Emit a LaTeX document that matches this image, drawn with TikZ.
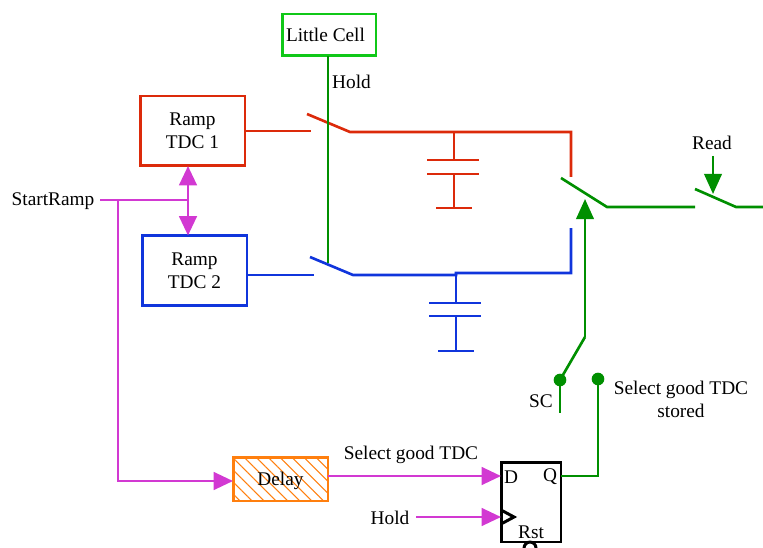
\documentclass[tikz,border=0pt]{standalone}
\usepackage{fontspec}
\setmainfont{Liberation Serif}
\usepackage{tikz}
\usetikzlibrary{arrows.meta, patterns.meta}
\definecolor{mRed}{HTML}{DC2A0A}
\definecolor{mBlue}{HTML}{1035DC}
\definecolor{mGreen}{HTML}{008F00}
\definecolor{mLime}{HTML}{10C818}
\definecolor{mPink}{HTML}{D239D2}
\definecolor{mOrange}{HTML}{FF7F0E}

\begin{document}
\begin{tikzpicture}[x=0.02cm, y=-0.02cm,
      every node/.style={font=\fontsize{11}{13}\selectfont, align=center, inner sep=0pt, outer sep=0pt},
      wire/.style={line width=1.5pt, line join=miter},
      box/.style={draw, line width=1.7pt, fill=white, minimum width=21mm, minimum height=14mm},
      pinkhead/.style={-{Triangle[length=11pt, width=10pt]}},
      greenhead/.style={-{Triangle[length=11.5pt, width=10pt]}}]
    \useasboundingbox (0,0) rectangle (763,547);

    % blocks
    \node[box, draw=mLime, minimum width=18.8mm, minimum height=8.4mm] (cell) at (329,35) {};
    \node (celltxt) at (325.5,35) {Little Cell};
    \node[box, draw=mRed]  (tdcA) at (192.5,131) {Ramp\\TDC 1};
    \node[box, draw=mBlue] (tdcB) at (194.5,270.5) {Ramp\\TDC 2};
    \node[box, draw=mOrange, fill=none, minimum width=19mm, minimum height=8.8mm,
          pattern={Lines[angle=-45, distance=4.8pt, line width=0.6pt]}, pattern color=mOrange] (delay) at (280.5,479) {};
    \node (delaytxt) at (280.5,481) {Delay};
    \node[draw, line width=1.7pt, minimum width=12mm, minimum height=16mm] (ff) at (531,502) {};

    % labels
    \node (holdtop) at (351.5,81.5) {Hold};
    \node (start) at (53,201) {StartRamp};
    \node (read) at (712,142.5) {Read};
    \node (sc) at (541,401) {SC};
    \node (stored) at (681,399) {Select good TDC\\stored};
    \node (sel) at (411,455) {Select good TDC};
    \node (holdff) at (390,518) {Hold};
    \node (dpin) at (511,477) {D};
    \node (qpin) at (550,477) {Q};
    \node (rst) at (531,532) {Rst};

    % red branch
    \coordinate (swAa) at (307,114);
    \coordinate (swAb) at (350,132);
    \coordinate (capA) at (454,132);
    \coordinate (capAt) at (454,160);
    \coordinate (capAm) at (454,174);
    \coordinate (capAb) at (454,208);
    \draw[wire, mRed] (tdcA.east) -- (311,131);
    \draw[wire, mRed] (swAa) -- (swAb) -- (capA) -- (571,132) -- (571,177);
    \draw[wire, mRed] (capA) -- (capAt) (capAm) -- (capAb);
    \draw[wire, mRed] (427,160) -- (479,160) (427,174) -- (479,174) (436,208) -- (472,208);

    % blue branch
    \coordinate (swBa) at (310,257);
    \coordinate (swBb) at (353,275);
    \coordinate (capB) at (456,273);
    \coordinate (capBt) at (456,303);
    \coordinate (capBm) at (456,316);
    \coordinate (capBb) at (456,351);
    \draw[wire, mBlue] (tdcB.east |- 0,275) -- (314,275);
    \draw[wire, mBlue] (swBa) -- (swBb) -- (456,275) -- (capB) -- (571,273) -- (571,228);
    \draw[wire, mBlue] (capB) -- (capBt) (capBm) -- (capBb);
    \draw[wire, mBlue] (429,303) -- (481,303) (429,316) -- (481,316) (438,351) -- (474,351);

    % hold line on top of both switches
    \coordinate (holdtap) at (328,56);
    \draw[wire, mGreen] (holdtap) -- (328,263);

    % output switches
    \coordinate (swCa) at (561,178);
    \coordinate (swCb) at (607,207);
    \coordinate (swDa) at (695,189);
    \coordinate (swDb) at (736,207);
    \coordinate (outp) at (763,207);
    \draw[wire, mGreen] (swCa) -- (swCb) -- (695,207);
    \draw[wire, mGreen] (swDa) -- (swDb) -- (outp);
    \draw[wire, mGreen, greenhead] (713,156) -- (713,194);

    % SC control
    \coordinate (scdot) at (560,380);
    \coordinate (scbend) at (585,337);
    \draw[wire, mGreen, greenhead] (scbend) -- (585,199);
    \draw[wire, mGreen] (scdot) -- (scbend);
    \draw[wire, mGreen] (scdot) -- (560,413);
    \fill[mGreen] (scdot) circle (3.6pt);

    % flip-flop output
    \coordinate (qdot) at (598,379);
    \draw[wire, mGreen] (ff.east |- 0,476) -- (598,476) -- (qdot);
    \fill[mGreen] (qdot) circle (3.6pt);

    % start ramp
    \coordinate (jn) at (188,200);
    \coordinate (tap) at (118,200);
    \coordinate (startout) at (100,200);
    \draw[wire, mPink] (startout) -- (jn);
    \draw[wire, mPink, pinkhead] (jn) -- (jn |- tdcA.south);
    \draw[wire, mPink, pinkhead] (jn) -- (jn |- tdcB.north);
    \draw[wire, mPink, pinkhead] (tap) -- (118,481) -- (delay.west |- 0,481);
    \draw[wire, mPink, pinkhead] (delay.east |- 0,476) -- (ff.west |- 0,476);
    \draw[wire, mPink, pinkhead] (416,517) -- (ff.west |- 0,517);

    % clock and reset marks
    \draw[line width=1.7pt] (501,510) -- (514,517) -- (501,524);
    \draw[line width=1.7pt] (530,548) circle (3.4pt);
  \end{tikzpicture}
\end{document}
